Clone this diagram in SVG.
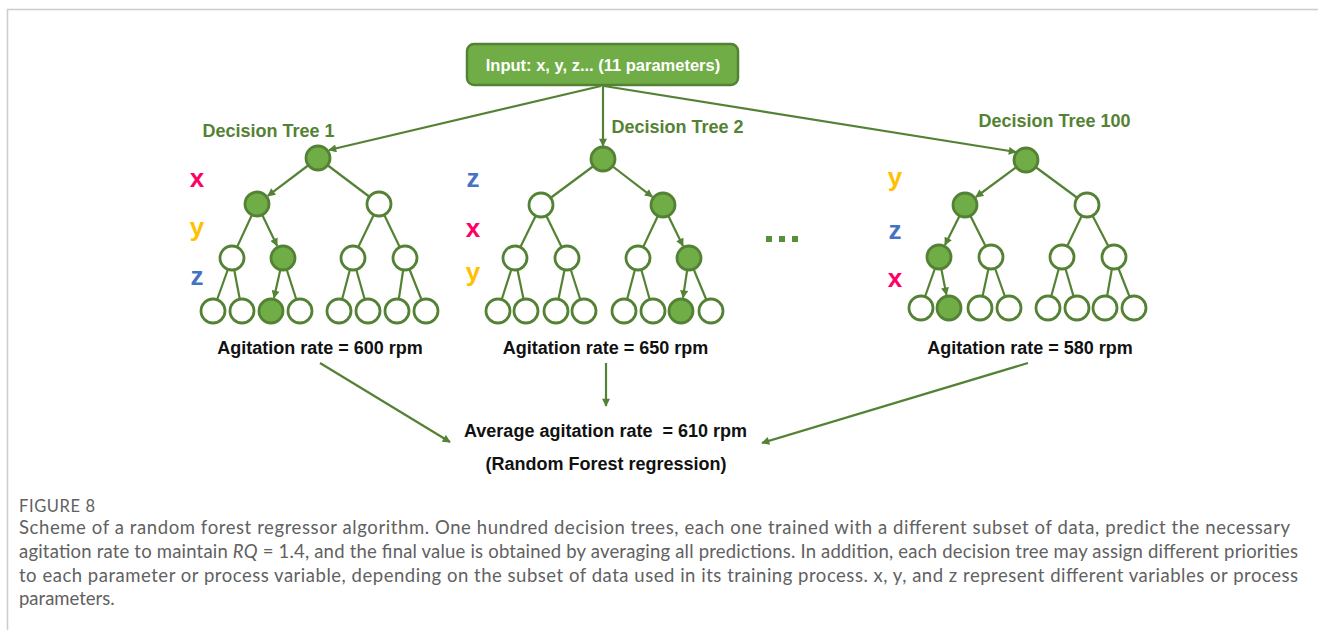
<svg xmlns="http://www.w3.org/2000/svg" width="1318" height="630" viewBox="0 0 1318 630">
  <style>
    .edge { stroke: #548235; stroke-width: 2.2; fill: none; }
    .arr { stroke: #548235; stroke-width: 2.2; fill: none; marker-end: url(#ah); }
    .n { stroke: #548235; stroke-width: 2.8; fill: #ffffff; }
    .f { fill: #70AD47; }
    .title { font-family: "Liberation Sans", Arial, sans-serif; font-weight: bold; font-size: 18px; fill: #548235; text-anchor: middle; }
    .res { font-family: "Liberation Sans", Arial, sans-serif; font-weight: bold; font-size: 18px; fill: #111111; text-anchor: middle; white-space: pre; }
    .var { font-family: "Liberation Sans", Arial, sans-serif; font-weight: bold; font-size: 26px; text-anchor: middle; }
    .vx { fill: #FF0066; }
    .vy { fill: #FFC000; }
    .vz { fill: #4472C4; }
    .cap { font-family: Lato, "Open Sans", sans-serif; font-weight: 400; font-size: 18.5px; fill: #616161; }
    .fig { font-family: Lato, "Open Sans", sans-serif; font-weight: 400; font-size: 16.5px; fill: #616161; letter-spacing: 0.6px; }
  </style>
  <defs>
    <marker id="ah" viewBox="0 0 10 10" refX="9" refY="5" markerWidth="9" markerHeight="8" markerUnits="userSpaceOnUse" orient="auto">
      <path d="M0,0 L10,5 L0,10 z" fill="#548235"/>
    </marker>
  </defs>

  <!-- page frame -->
  <path d="M7.5,630 V9.5 H1318" fill="none" stroke="#cccccc" stroke-width="1.5"/>

  <!-- connectors -->
  <g id="connectors">
    <!-- input to tree roots -->
    <line class="arr" x1="601" y1="86" x2="329" y2="150"/>
    <line class="arr" x1="603" y1="86" x2="603" y2="146"/>
    <line class="arr" x1="604" y1="86" x2="1016" y2="152"/>

    <!-- tree 1 -->
    <line class="edge" x1="318" y1="158" x2="379" y2="204"/>
    <line class="edge" x1="257" y1="204" x2="232" y2="258"/>
    <line class="edge" x1="379" y1="204" x2="353" y2="258"/>
    <line class="edge" x1="379" y1="204" x2="405" y2="258"/>
    <line class="edge" x1="232" y1="258" x2="213" y2="311"/>
    <line class="edge" x1="232" y1="258" x2="242" y2="311"/>
    <line class="edge" x1="283" y1="258" x2="300" y2="311"/>
    <line class="edge" x1="353" y1="258" x2="339" y2="311"/>
    <line class="edge" x1="353" y1="258" x2="368" y2="311"/>
    <line class="edge" x1="405" y1="258" x2="397" y2="311"/>
    <line class="edge" x1="405" y1="258" x2="426" y2="311"/>
    <line class="arr" x1="318" y1="158" x2="267.8" y2="195.9"/>
    <line class="arr" x1="257" y1="204" x2="277.1" y2="245.8"/>
    <line class="arr" x1="283" y1="258" x2="274" y2="297.8"/>

    <!-- tree 2 -->
    <line class="edge" x1="603" y1="159" x2="541" y2="205"/>
    <line class="edge" x1="541" y1="205" x2="515" y2="258"/>
    <line class="edge" x1="541" y1="205" x2="567" y2="258"/>
    <line class="edge" x1="663" y1="205" x2="638" y2="258"/>
    <line class="edge" x1="515" y1="258" x2="498" y2="311"/>
    <line class="edge" x1="515" y1="258" x2="526" y2="311"/>
    <line class="edge" x1="567" y1="258" x2="556" y2="311"/>
    <line class="edge" x1="567" y1="258" x2="584" y2="311"/>
    <line class="edge" x1="638" y1="258" x2="624" y2="311"/>
    <line class="edge" x1="638" y1="258" x2="653" y2="311"/>
    <line class="edge" x1="689" y1="258" x2="711" y2="311"/>
    <line class="arr" x1="603" y1="159" x2="652.3" y2="196.8"/>
    <line class="arr" x1="663" y1="205" x2="683" y2="245.9"/>
    <line class="arr" x1="689" y1="258" x2="683" y2="297.6"/>

    <!-- tree 100 -->
    <line class="edge" x1="1026" y1="160" x2="1087" y2="205"/>
    <line class="edge" x1="965" y1="205" x2="991" y2="257"/>
    <line class="edge" x1="1087" y1="205" x2="1062" y2="257"/>
    <line class="edge" x1="1087" y1="205" x2="1114" y2="257"/>
    <line class="edge" x1="939" y1="257" x2="921" y2="308"/>
    <line class="edge" x1="991" y1="257" x2="980" y2="308"/>
    <line class="edge" x1="991" y1="257" x2="1009" y2="308"/>
    <line class="edge" x1="1062" y1="257" x2="1048" y2="308"/>
    <line class="edge" x1="1062" y1="257" x2="1077" y2="308"/>
    <line class="edge" x1="1114" y1="257" x2="1105" y2="308"/>
    <line class="edge" x1="1114" y1="257" x2="1134" y2="308"/>
    <line class="arr" x1="1026" y1="160" x2="975.9" y2="197"/>
    <line class="arr" x1="965" y1="205" x2="945" y2="244.9"/>
    <line class="arr" x1="939" y1="257" x2="946.4" y2="294.8"/>

    <!-- results to average -->
    <line class="arr" x1="320" y1="363" x2="450" y2="442"/>
    <line class="arr" x1="606" y1="363" x2="606" y2="406"/>
    <line class="arr" x1="1028" y1="363" x2="762" y2="443"/>
  </g>

  <!-- input node -->
  <g id="input">
    <rect x="467" y="44" width="271" height="41" rx="7" fill="#70AD47" stroke="#548235" stroke-width="2.5"/>
    <text x="603" y="71" font-family="Liberation Sans, Arial, sans-serif" font-weight="bold" font-size="16.5" fill="#ffffff" text-anchor="middle">Input: x, y, z... (11 parameters)</text>
  </g>

  <!-- decision tree 1 -->
  <g id="tree1">
    <text class="title" x="268.5" y="136.5">Decision Tree 1</text>
    <text class="var vx" x="197" y="187">x</text>
    <text class="var vy" x="197" y="236">y</text>
    <text class="var vz" x="197" y="285">z</text>
    <g id="t1-root"><circle class="n f" cx="318" cy="158" r="12"/></g>
    <g id="t1-a"><circle class="n f" cx="257" cy="204" r="12"/></g>
    <g id="t1-b"><circle class="n" cx="379" cy="204" r="12"/></g>
    <g id="t1-c"><circle class="n" cx="232" cy="258" r="12"/></g>
    <g id="t1-d"><circle class="n f" cx="283" cy="258" r="12"/></g>
    <g id="t1-e"><circle class="n" cx="353" cy="258" r="12"/></g>
    <g id="t1-f"><circle class="n" cx="405" cy="258" r="12"/></g>
    <g id="t1-l1"><circle class="n" cx="213" cy="311" r="12"/></g>
    <g id="t1-l2"><circle class="n" cx="242" cy="311" r="12"/></g>
    <g id="t1-l3"><circle class="n f" cx="271" cy="311" r="12"/></g>
    <g id="t1-l4"><circle class="n" cx="300" cy="311" r="12"/></g>
    <g id="t1-l5"><circle class="n" cx="339" cy="311" r="12"/></g>
    <g id="t1-l6"><circle class="n" cx="368" cy="311" r="12"/></g>
    <g id="t1-l7"><circle class="n" cx="397" cy="311" r="12"/></g>
    <g id="t1-l8"><circle class="n" cx="426" cy="311" r="12"/></g>
    <text class="res" x="320" y="353.5">Agitation rate = 600 rpm</text>
  </g>

  <!-- decision tree 2 -->
  <g id="tree2">
    <text class="title" x="677.5" y="132.5">Decision Tree 2</text>
    <text class="var vz" x="473" y="187">z</text>
    <text class="var vx" x="473" y="237">x</text>
    <text class="var vy" x="473" y="281">y</text>
    <g id="t2-root"><circle class="n f" cx="603" cy="159" r="12"/></g>
    <g id="t2-a"><circle class="n" cx="541" cy="205" r="12"/></g>
    <g id="t2-b"><circle class="n f" cx="663" cy="205" r="12"/></g>
    <g id="t2-c"><circle class="n" cx="515" cy="258" r="12"/></g>
    <g id="t2-d"><circle class="n" cx="567" cy="258" r="12"/></g>
    <g id="t2-e"><circle class="n" cx="638" cy="258" r="12"/></g>
    <g id="t2-f"><circle class="n f" cx="689" cy="258" r="12"/></g>
    <g id="t2-l1"><circle class="n" cx="498" cy="311" r="12"/></g>
    <g id="t2-l2"><circle class="n" cx="526" cy="311" r="12"/></g>
    <g id="t2-l3"><circle class="n" cx="556" cy="311" r="12"/></g>
    <g id="t2-l4"><circle class="n" cx="584" cy="311" r="12"/></g>
    <g id="t2-l5"><circle class="n" cx="624" cy="311" r="12"/></g>
    <g id="t2-l6"><circle class="n" cx="653" cy="311" r="12"/></g>
    <g id="t2-l7"><circle class="n f" cx="681" cy="311" r="12"/></g>
    <g id="t2-l8"><circle class="n" cx="711" cy="311" r="12"/></g>
    <text class="res" x="605.5" y="353.5">Agitation rate = 650 rpm</text>
  </g>

  <!-- ellipsis between trees -->
  <g id="ellipsis" fill="#56903A">
    <rect x="766" y="236" width="6" height="6"/>
    <rect x="779" y="236" width="6" height="6"/>
    <rect x="792" y="236" width="6" height="6"/>
  </g>

  <!-- decision tree 100 -->
  <g id="tree100">
    <text class="title" x="1054.5" y="126.5">Decision Tree 100</text>
    <text class="var vy" x="895" y="186">y</text>
    <text class="var vz" x="895" y="239">z</text>
    <text class="var vx" x="895" y="287">x</text>
    <g id="t3-root"><circle class="n f" cx="1026" cy="160" r="12"/></g>
    <g id="t3-a"><circle class="n f" cx="965" cy="205" r="12"/></g>
    <g id="t3-b"><circle class="n" cx="1087" cy="205" r="12"/></g>
    <g id="t3-c"><circle class="n f" cx="939" cy="257" r="12"/></g>
    <g id="t3-d"><circle class="n" cx="991" cy="257" r="12"/></g>
    <g id="t3-e"><circle class="n" cx="1062" cy="257" r="12"/></g>
    <g id="t3-f"><circle class="n" cx="1114" cy="257" r="12"/></g>
    <g id="t3-l1"><circle class="n" cx="921" cy="308" r="12"/></g>
    <g id="t3-l2"><circle class="n f" cx="949" cy="308" r="12"/></g>
    <g id="t3-l3"><circle class="n" cx="980" cy="308" r="12"/></g>
    <g id="t3-l4"><circle class="n" cx="1009" cy="308" r="12"/></g>
    <g id="t3-l5"><circle class="n" cx="1048" cy="308" r="12"/></g>
    <g id="t3-l6"><circle class="n" cx="1077" cy="308" r="12"/></g>
    <g id="t3-l7"><circle class="n" cx="1105" cy="308" r="12"/></g>
    <g id="t3-l8"><circle class="n" cx="1134" cy="308" r="12"/></g>
    <text class="res" x="1030" y="353.5">Agitation rate = 580 rpm</text>
  </g>

  <!-- aggregated output -->
  <g id="average">
    <text class="res" x="605.5" y="436.5">Average agitation rate  = 610 rpm</text>
    <text class="res" x="606" y="469.5">(Random Forest regression)</text>
  </g>

  <!-- caption -->
  <g id="caption">
    <text class="fig" x="19" y="512">FIGURE 8</text>
    <text class="cap" x="19" y="534" textLength="1271" lengthAdjust="spacing">Scheme of a random forest regressor algorithm. One hundred decision trees, each one trained with a different subset of data, predict the necessary</text>
    <text class="cap" x="19" y="558" textLength="1279" lengthAdjust="spacing">agitation rate to maintain <tspan font-style="italic">RQ</tspan> = 1.4, and the final value is obtained by averaging all predictions. In addition, each decision tree may assign different priorities</text>
    <text class="cap" x="19" y="582" textLength="1279" lengthAdjust="spacing">to each parameter or process variable, depending on the subset of data used in its training process. x, y, and z represent different variables or process</text>
    <text class="cap" x="19" y="605">parameters.</text>
  </g>
</svg>
